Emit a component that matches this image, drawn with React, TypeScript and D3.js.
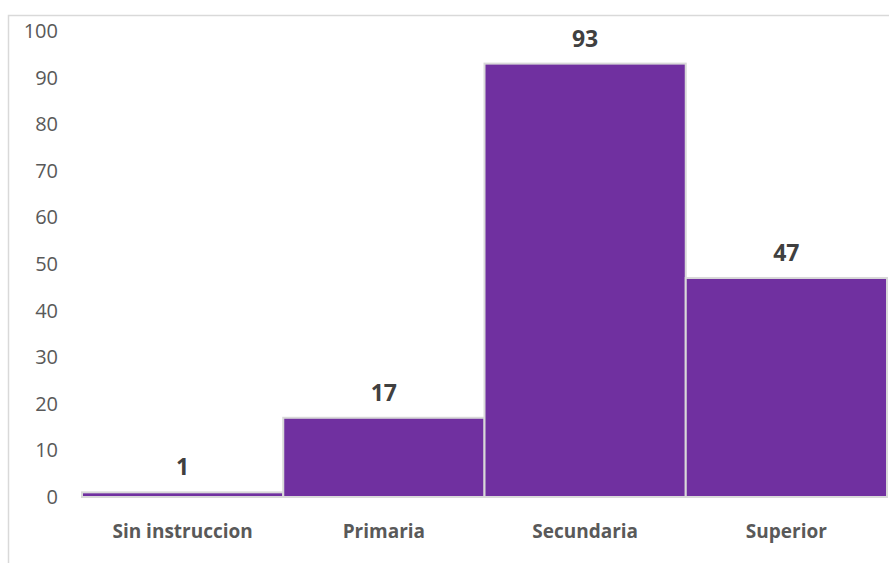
import React from "react";
import * as d3 from "d3";

const categories = ["Sin instruccion", "Primaria", "Secundaria", "Superior"];
const values = [1, 17, 93, 47];
const yTicks = [0, 10, 20, 30, 40, 50, 60, 70, 80, 90, 100];

const W = 889;
const H = 563;
const FONT = "'Open Sans', 'Liberation Sans', sans-serif";

export default function App() {
  const x = d3.scaleBand<string>().domain(categories).range([82, 887]).padding(0);
  const y = d3.scaleLinear().domain([0, 100]).range([497, 31]);

  return (
    <svg
      width={W}
      height={H}
      style={{ position: "absolute", left: 0, top: 0, background: "#fff" }}
      fontFamily={FONT}
    >
      <rect x={8.5} y={15.5} width={W + 10} height={H + 10} fill="#fff" stroke="#d9d9d9" strokeWidth={1.5} />
      {yTicks.map((t) => (
        <text
          key={t}
          x={58}
          y={y(t)}
          dy="0.35em"
          textAnchor="end"
          fontSize={20}
          fill="#595959"
        >
          {t}
        </text>
      ))}
      {categories.map((c, i) => (
        <g key={c}>
          <rect
            x={x(c)!}
            y={y(values[i])}
            width={x.bandwidth()}
            height={y(0) - y(values[i])}
            fill="#7030a0"
            stroke="#d9d9d9"
            strokeWidth={2}
          />
          <text
            x={x(c)! + x.bandwidth() / 2}
            y={y(values[i]) - 17}
            textAnchor="middle"
            fontSize={23}
            fontWeight="bold"
            fill="#404040"
          >
            {values[i]}
          </text>
          <text
            x={x(c)! + x.bandwidth() / 2}
            y={531}
            dy="0.35em"
            textAnchor="middle"
            fontSize={19}
            fontWeight="bold"
            fill="#595959"
          >
            {c}
          </text>
        </g>
      ))}
    </svg>
  );
}
